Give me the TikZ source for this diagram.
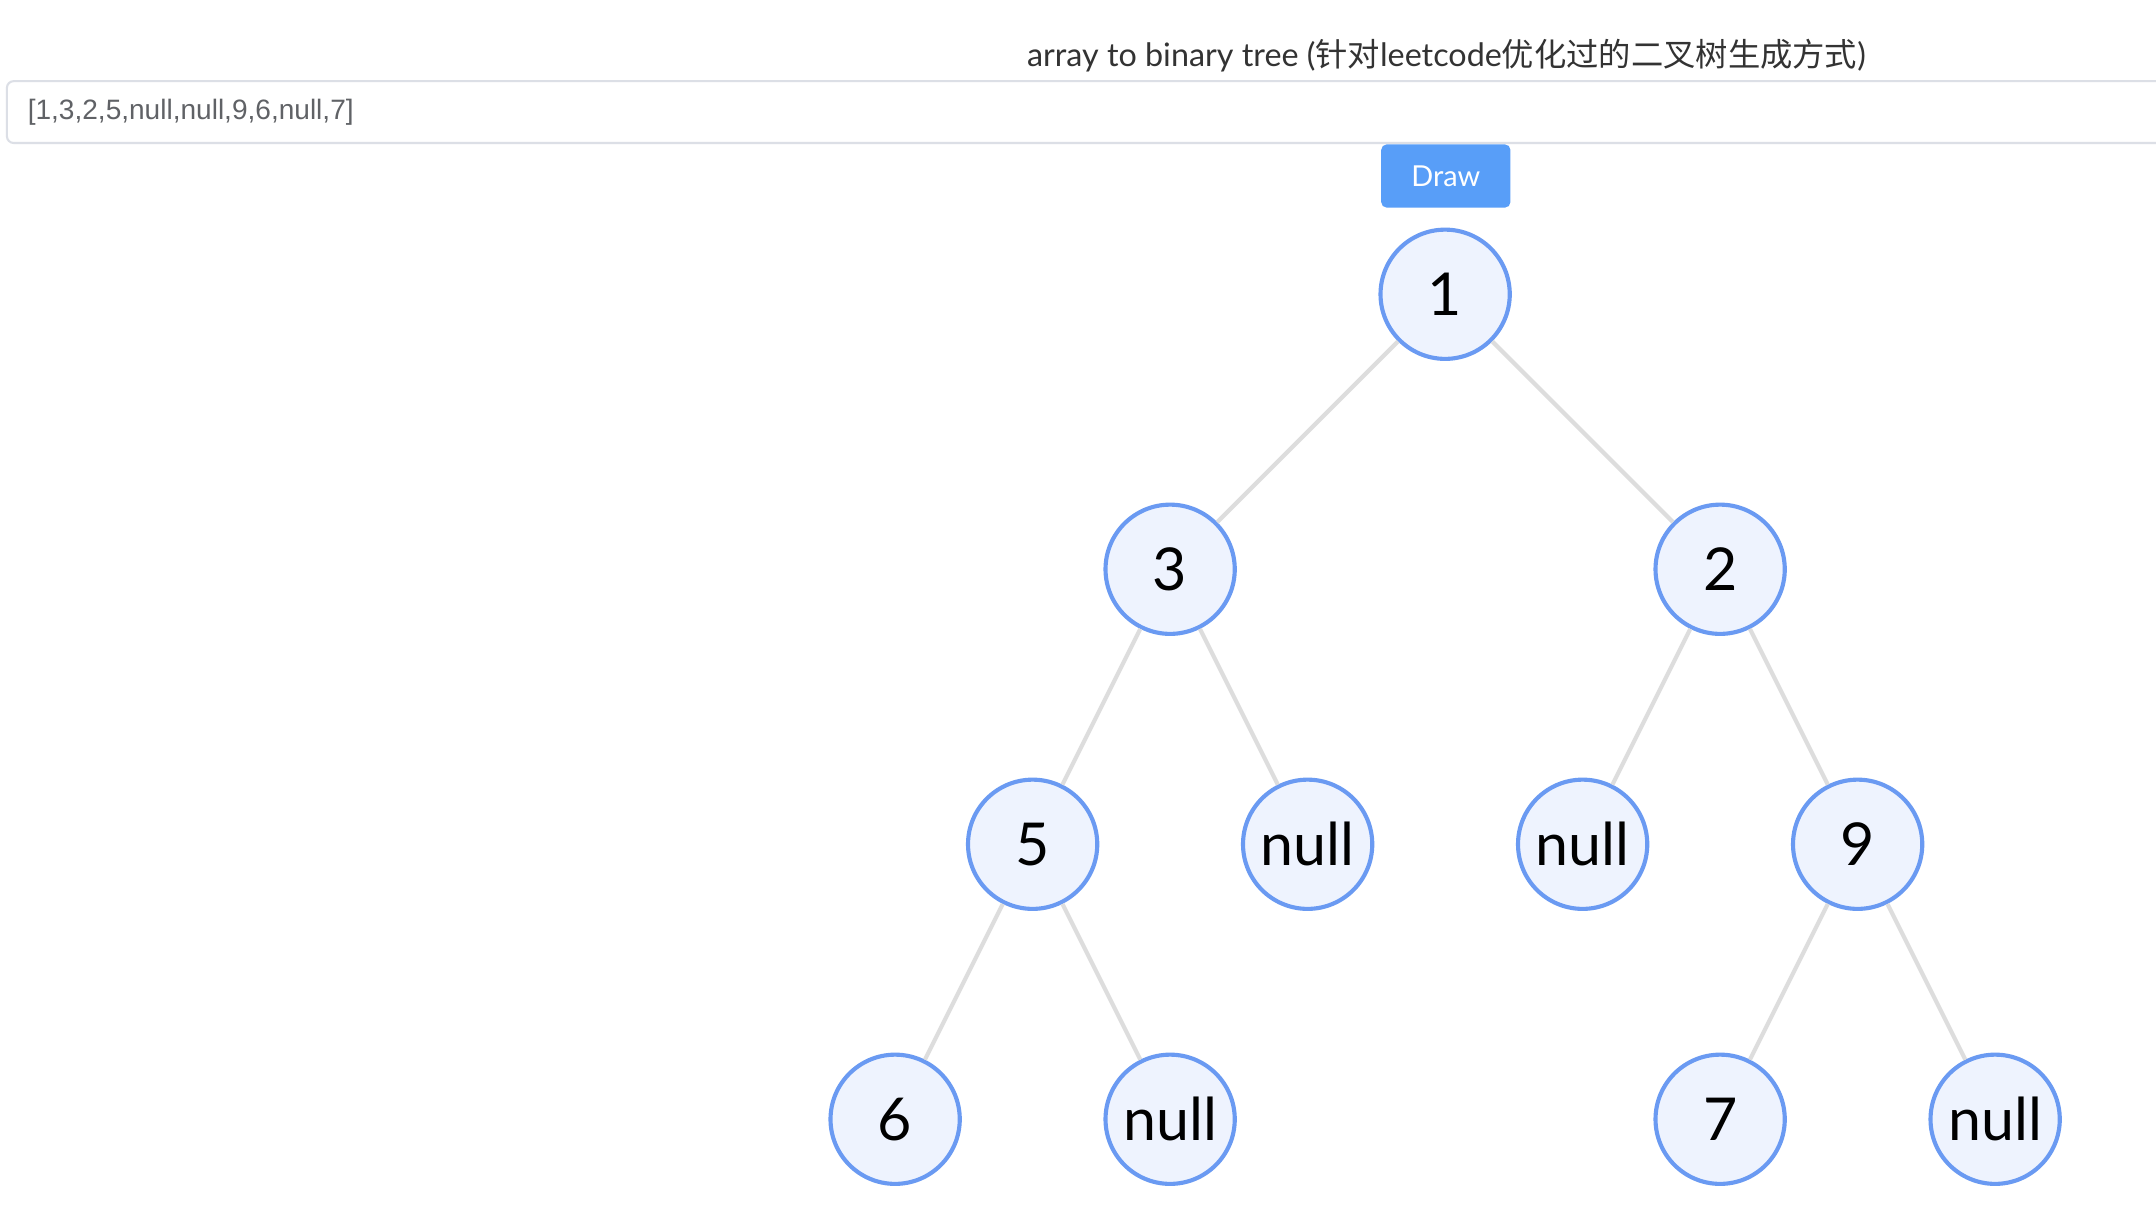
\documentclass[tikz,border=0pt]{standalone}
\usepackage{fontspec}
\setmainfont{Lato}
\newfontfamily\cjkfont{Noto Sans CJK SC}
\newfontfamily\arialfont{Liberation Sans}
\definecolor{edgegray}{HTML}{DDDDDD}
\definecolor{nodeborder}{HTML}{6A9AF2}
\definecolor{nodefill}{HTML}{EEF3FE}
\definecolor{boxborder}{HTML}{DCDFE6}
\definecolor{inputtext}{HTML}{606266}
\definecolor{btnblue}{HTML}{589EF8}
\definecolor{titlegray}{HTML}{333333}
\begin{document}
\begin{tikzpicture}[x=1pt,y=-1pt,
  treenode/.style={circle,draw=nodeborder,fill=nodefill,line width=3pt,minimum size=94pt,inner sep=0pt,font=\fontsize{43}{48}\selectfont},
  treeedge/.style={draw=edgegray,line width=3pt},
  btnstyle/.style={rectangle,rounded corners=4pt,fill=btnblue,text=white,minimum width=94pt,minimum height=46pt,inner sep=0pt,font=\fontsize{21}{24}\selectfont}]
\clip (0,0) rectangle (1568,887.2);
\fill[white] (0,0) rectangle (1568,887.2);
% title
\node[anchor=base,text=titlegray,inner sep=0pt,font=\fontsize{23.5}{27}\selectfont] (title) at (1052,48)
  {array to binary tree ({\cjkfont 针对}leetcode{\cjkfont 优化过的二叉树生成方式})};
% input box
\draw[boxborder,line width=1.5pt,rounded corners=5pt] (5,59) rectangle (1600,104);
\node[anchor=west,text=inputtext,inner sep=0pt,font=\arialfont\fontsize{20.4}{23}\selectfont] (input) at (20,81.5) {[1,3,2,5,null,null,9,6,null,7]};
% button
\node[btnstyle] (btn) at (1051.5,128) {Draw};
% tree nodes
\node[treenode] (n1) at (1051,214) {1};
\node[treenode] (n3) at (851,414) {3};
\node[treenode] (n2) at (1251,414) {2};
\node[treenode] (n5) at (751,614) {5};
\node[treenode] (nA) at (951,614) {null};
\node[treenode] (nB) at (1151,614) {null};
\node[treenode] (n9) at (1351,614) {9};
\node[treenode] (n6) at (651,814) {6};
\node[treenode] (nC) at (851,814) {null};
\node[treenode] (n7) at (1251,814) {7};
\node[treenode] (nD) at (1451,814) {null};
% edges
\draw[treeedge] (n1) -- (n3);
\draw[treeedge] (n1) -- (n2);
\draw[treeedge] (n3) -- (n5);
\draw[treeedge] (n3) -- (nA);
\draw[treeedge] (n2) -- (nB);
\draw[treeedge] (n2) -- (n9);
\draw[treeedge] (n5) -- (n6);
\draw[treeedge] (n5) -- (nC);
\draw[treeedge] (n9) -- (n7);
\draw[treeedge] (n9) -- (nD);
\end{tikzpicture}
\end{document}
